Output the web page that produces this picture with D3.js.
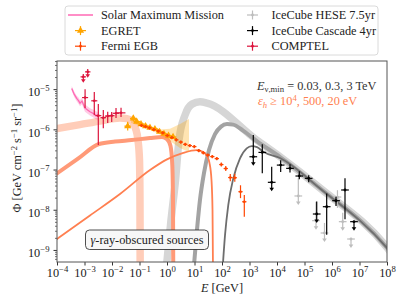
<!DOCTYPE html>
<html lang="en">
<head>
<meta charset="UTF-8">
<title>Gamma-ray obscured sources</title>
<style>
    body { margin: 0; background: #fff; }
    svg text { font-family: "Liberation Serif", "DejaVu Serif", serif; fill: #222; }
</style>
</head>
<body>
<svg id="chart"></svg>
<script src="https://cdnjs.cloudflare.com/ajax/libs/d3/7.9.0/d3.min.js"></script>
<script>
// axis decades
const xTickExp = [-4, -3, -2, -1, 0, 1, 2, 3, 4, 5, 6, 7, 8];
const yTickExp = [-9, -8, -7, -6, -5];

// Solar Maximum Mission (line + band, band half-width in dex)
const smmE = [3.43e-4, 4.26e-4, 5.20e-4, 6.05e-4, 6.86e-4, 8.11e-4, 1.04e-3, 1.58e-3, 2.41e-3, 3.18e-3];
const smmF = [1.04e-5, 7.38e-6, 5.87e-6, 5.18e-6, 4.49e-6, 5.04e-6, 3.37e-6, 2.73e-6, 2.35e-6, 2.05e-6];
const smmErr = [0.06, 0.07, 0.07, 0.08, 0.08, 0.08, 0.09, 0.09, 0.1, 0.1];

// COMPTEL (errors in dex)
const comptelE = [1.05e-3, 2.27e-3, 3.18e-3, 4.83e-3, 6.98e-3, 9.75e-3, 1.40e-2, 2.13e-2];
const comptelF = [6.17e-6, 5.13e-6, 2.19e-6, 1.95e-6, 2.14e-6, 2.19e-6, 2.51e-6, 2.57e-6];
const comptelUp = [0.21, 0.22, 0.29, 0.19, 0.11, 0.09, 0.13, 0.13];
const comptelDn = [0.26, 0.36, 0.73, 0.26, 0.17, 0.16, 0.12, 0.10];
const comptelBin = [0.11, 0.11, 0.11, 0.1, 0.1, 0.1, 0.12, 0.16];
const comptelLimE = [9.04e-4, 1.31e-3];
const comptelLimF = [2.02e-5, 2.69e-5];

// EGRET
const egretE = [0.0372, 0.0596, 0.0794, 0.1135, 0.166, 0.240, 0.363, 0.537, 0.776, 1.135, 1.66];
const egretF = [1.20e-6, 1.87e-6, 1.55e-6, 1.35e-6, 1.20e-6, 1.10e-6, 1.02e-6, 8.71e-7, 7.76e-7, 7.00e-7, 6.46e-7];
const egretErr = [0.11, 0.07, 0.05, 0.04, 0.04, 0.04, 0.04, 0.04, 0.04, 0.05, 0.05];
const egretBandE = [0.0491, 0.104, 0.241, 0.556, 1.285, 2.97, 6.31];
const egretBandHi = [2.07e-6, 1.56e-6, 1.24e-6, 9.86e-7, 1.04e-6, 1.35e-6, 1.80e-6];
const egretBandLo = [1.43e-6, 1.21e-6, 9.57e-7, 7.41e-7, 5.11e-7, 3.42e-7, 2.72e-7];

// Fermi EGB
const fermiE = [0.118, 0.165, 0.231, 0.331, 0.483, 0.703, 1.03, 1.50, 2.18, 3.18, 4.62, 6.75,
    9.84, 14.3, 20.9, 30.5, 44.4, 64.7, 94.4, 137, 200, 292, 471, 647];
const fermiF = [1.25e-6, 1.17e-6, 1.09e-6, 9.86e-7, 9.06e-7, 8.17e-7, 7.00e-7, 6.24e-7, 5.47e-7,
    4.82e-7, 4.23e-7, 3.94e-7, 3.72e-7, 2.96e-7, 2.61e-7, 2.29e-7, 2.10e-7, 1.87e-7, 1.33e-7,
    1.06e-7, 6.32e-8, 6.25e-8, 2.81e-8, 1.58e-8];
const fermiUp = [0.04, 0.04, 0.04, 0.04, 0.04, 0.04, 0.04, 0.04, 0.04, 0.04, 0.04, 0.04,
    0.04, 0.04, 0.04, 0.04, 0.04, 0.04, 0.05, 0.06, 0.09, 0.1, 0.16, 0.17];
const fermiDn = [0.04, 0.04, 0.04, 0.04, 0.04, 0.04, 0.04, 0.04, 0.04, 0.04, 0.04, 0.04,
    0.04, 0.04, 0.04, 0.04, 0.04, 0.04, 0.05, 0.06, 0.09, 0.1, 0.16, 0.37];

// IceCube Cascade 4yr (null lower error = upper limit)
const cascadeE = [1374, 2917, 6412, 1.36e4, 2.97e4, 6.47e4, 1.42e5, 2.78e5, 6.41e5, 1.40e6, 2.97e6, 6.31e6];
const cascadeF = [2.08e-7, 2.67e-7, 4.81e-8, 1.29e-7, 1.07e-7, 6.90e-8, 6.04e-8, 7.83e-9, 1.19e-8, 1.68e-8, 3.10e-8, 5.05e-9];
const cascadeUp = [0.54, 0.2, 0.39, 0.12, 0.1, 0.12, 0.08, 0.31, 0.33, 0.1, 0.29, 0];
const cascadeDn = [null, 0.52, null, 0.17, 0.1, 0.08, 0.1, null, 0.7, 0.13, 0.73, null];

// IceCube HESE 7.5yr
const heseE = [5.96e4, 2.62e5, 5.33e5, 1.58e6, 2.45e6, 4.91e6];
const heseF = [2.20e-8, 5.35e-9, 2.64e-9, 2.07e-8, 5.05e-9, 1.87e-9];
const heseUp = [0.44, 0.47, 0.25, 0.17, 0.22, 0];
const heseDn = [null, null, null, 0.27, null, null];

// neutrino model curves (E_nu,min = 0.03, 0.3, 3 TeV)
const nuE1 = [0.92, 1.40, 2.04, 2.73, 4.52, 8.11, 15.8, 28.5, 1828, 1.29e4, 3.66e5, 9.75e7, 1.5e8];
const nuF1 = [3e-10, 5.56e-9, 5.48e-8, 5.41e-7, 2.26e-6, 4.24e-6, 4.83e-6, 4.49e-6, 5.41e-7, 2.08e-7, 3.47e-8, 1.17e-9, 8e-10];
const nuE2 = [9.2, 12.3, 15.8, 22.1, 33.7, 55.6, 92.0, 152, 251, 581, 1828, 1.29e4, 3.66e5, 9.75e7, 1.5e8];
const nuF2 = [3e-10, 3.14e-9, 1.75e-8, 8.18e-8, 3.05e-7, 7.62e-7, 1.17e-6, 1.35e-6, 1.31e-6, 9.31e-7, 5.11e-7, 2.05e-7, 3.41e-8, 1.15e-9, 8e-10];
const nuE3 = [104, 129, 169, 258, 452, 791, 1202, 1875, 3177, 1.29e4, 3.66e5, 9.75e7, 1.5e8];
const nuF3 = [3e-10, 2.36e-9, 1.31e-8, 6.04e-8, 1.90e-7, 3.37e-7, 3.84e-7, 3.62e-7, 2.77e-7, 1.93e-7, 3.37e-8, 1.14e-9, 8e-10];

// gamma-ray model curves (eps_h >= 1e4, 500, 20 eV)
const gaE1 = [1e-4, 6.86e-4, 3.66e-3, 1.95e-2, 3.51e-2, 5.33e-2, 7.16e-2, 8.81e-2, 0.1, 0.104, 0.106];
const gaF1 = [1.05e-6, 1.31e-6, 1.60e-6, 1.91e-6, 1.85e-6, 1.60e-6, 1.07e-6, 5.41e-7, 1.72e-7, 1.75e-8, 3e-10];
const gaE2 = [1e-4, 5.81e-4, 3.37e-3, 1.29e-2, 5.20e-2, 0.241, 0.658, 1.0, 1.34, 1.56, 1.65, 1.69];
const gaF2 = [8.05e-8, 1.87e-7, 4.31e-7, 4.97e-7, 5.41e-7, 6.07e-7, 6.41e-7, 5.73e-7, 3.84e-7, 1.29e-7, 1.75e-8, 3e-10];
const gaE3 = [1e-4, 1.58e-3, 1.95e-2, 0.241, 1.0, 3.92, 12.0, 20.9, 28.5, 35.1, 41.5, 45.2, 47.1];
const gaF3 = [1.87e-9, 7.19e-9, 2.46e-8, 9.73e-8, 1.79e-7, 2.61e-7, 3.05e-7, 2.72e-7, 2.16e-7, 1.45e-7, 5.48e-8, 9.86e-9, 3e-10];

const W = 407, H = 305;
const pLeft = 57, pRight = 387, pTop = 61, pBottom = 262;
const fs = 12.3, fsSup = 8.7;

const svg = d3.select("#chart").attr("width", W).attr("height", H)
    .style("display", "block");

const x = d3.scaleLog().domain([1e-4, 1e8]).range([pLeft, pRight]);
const y = d3.scaleLog().domain([Math.pow(10, -9.3), Math.pow(10, -4.3)]).range([pBottom, pTop]);

svg.append("defs").append("clipPath").attr("id", "plot")
    .append("rect").attr("x", pLeft).attr("y", pTop)
    .attr("width", pRight - pLeft).attr("height", pBottom - pTop);

const plot = svg.append("g").attr("clip-path", "url(#plot)");

const line = d3.line().x(d => x(d[0])).y(d => y(d[1])).curve(d3.curveMonotoneX);
const zip = (a, b) => a.map((v, i) => [v, b[i]]);

function curve(E, F, color, width) {
    plot.append("path").attr("d", line(zip(E, F)))
        .attr("fill", "none").attr("stroke", color)
        .attr("stroke-width", width).attr("stroke-linejoin", "round").attr("stroke-linecap", "round");
}

// neutrino curves
curve(nuE1, nuF1, "#d6d6d6", 7.5);
curve(nuE2, nuF2, "#a3a3a3", 4);
curve(nuE3, nuF3, "#6e6e6e", 1.8);

// gamma curves
curve(gaE1, gaF1, "#ffcdb9", 7.5);
curve(gaE2, gaF2, "#ff9a78", 4);
curve(gaE3, gaF3, "#ff7f50", 1.8);

// EGRET band
const band = d3.area().x(d => x(d[0])).y0(d => y(d[1])).y1(d => y(d[2]));
plot.append("path")
    .attr("d", band(egretBandE.map((e, i) => [e, egretBandLo[i], egretBandHi[i]])))
    .attr("fill", "#ffa500").attr("fill-opacity", 0.3);

// SMM band and line
plot.append("path")
    .attr("d", band(smmE.map((e, i) => [e, smmF[i] * Math.pow(10, -smmErr[i]), smmF[i] * Math.pow(10, smmErr[i])])))
    .attr("fill", "#ff69b4").attr("fill-opacity", 0.35);
plot.append("path")
    .attr("d", d3.line().x(d => x(d[0])).y(d => y(d[1]))(zip(smmE, smmF)))
    .attr("fill", "none").attr("stroke", "#ff69b4").attr("stroke-width", 1.3);

// error bars; dn === null draws an upper limit arrow
function errorbars(E, F, up, dn, bin, color, opts) {
    const g = plot.append("g").attr("stroke", color).attr("fill", color);
    const lw = opts.lw || 1.2;
    E.forEach((e, i) => {
        const cx = x(e), cy = y(F[i]);
        const b = Array.isArray(bin) ? bin[i] : bin;
        g.append("line").attr("x1", x(e / Math.pow(10, b))).attr("x2", x(e * Math.pow(10, b)))
            .attr("y1", cy).attr("y2", cy).attr("stroke-width", lw);
        const yTop = y(F[i] * Math.pow(10, up[i]));
        if (dn[i] === null) {
            const tip = cy + opts.arrow;
            g.append("line").attr("x1", cx).attr("x2", cx).attr("y1", yTop).attr("y2", tip - 2)
                .attr("stroke-width", lw);
            g.append("path").attr("d", `M${cx - 2.3},${tip - 3.5}L${cx + 2.3},${tip - 3.5}L${cx},${tip}Z`)
                .attr("stroke", "none");
        } else {
            g.append("line").attr("x1", cx).attr("x2", cx)
                .attr("y1", yTop).attr("y2", y(F[i] / Math.pow(10, dn[i])))
                .attr("stroke-width", lw);
        }
        if (opts.marker === "tri") {
            g.append("path").attr("d", d3.symbol(d3.symbolTriangle, 22)()).attr("stroke", "none")
                .attr("transform", `translate(${cx},${cy})`);
        } else if (opts.marker === "dot") {
            g.append("circle").attr("cx", cx).attr("cy", cy).attr("r", opts.r || 1.4).attr("stroke", "none");
        }
    });
}

errorbars(egretE, egretF, egretErr, egretErr, 0.12, "#ffa500", { marker: "tri" });
errorbars(fermiE, fermiF, fermiUp, fermiDn, 0.078, "#ff4500", { marker: "dot", r: 1.3 });
errorbars(comptelE, comptelF, comptelUp, comptelDn, comptelBin, "#dc143c", { marker: "dot", r: 1.3 });
errorbars(comptelLimE, comptelLimF, [0.07, 0.07], [null, null], 0.1, "#dc143c", { marker: "dot", arrow: 6 });
errorbars(heseE, heseF, heseUp, heseDn, 0.14, "#bdbdbd", { marker: "dot", arrow: 9 });
errorbars(cascadeE, cascadeF, cascadeUp, cascadeDn, 0.14, "#000", { marker: "dot", arrow: 9 });

// axes
function supLabel(sel, base, exp) {
    sel.text(null);
    sel.append("tspan").text(base);
    sel.append("tspan").attr("dy", -5.5).attr("font-size", fsSup)
        .text(exp < 0 ? "\u2212" + (-exp) : String(exp));
}

const gx = svg.append("g").attr("transform", `translate(0,${pBottom})`)
    .call(d3.axisBottom(x).tickValues(xTickExp.map(e => Math.pow(10, e)))
        .tickSize(3.5).tickPadding(3).tickFormat(() => ""));
gx.select(".domain").remove();
gx.selectAll(".tick line").attr("stroke", "#333");
gx.selectAll(".tick text").attr("font-size", fs).attr("fill", "#222")
    .each(function (d) { supLabel(d3.select(this), "10", Math.round(Math.log10(d))); });

const minorY = [];
for (let n = -10; n <= -5; n++) {
    for (let m = 2; m <= 9; m++) {
        const v = m * Math.pow(10, n);
        if (v > y.domain()[0] && v < y.domain()[1]) minorY.push(v);
    }
}
const gyMinor = svg.append("g").attr("transform", `translate(${pLeft},0)`)
    .call(d3.axisLeft(y).tickValues(minorY).tickSize(2).tickFormat(() => ""));
gyMinor.select(".domain").remove();
gyMinor.selectAll(".tick line").attr("stroke", "#333").attr("stroke-width", 0.7);

const gy = svg.append("g").attr("transform", `translate(${pLeft},0)`)
    .call(d3.axisLeft(y).tickValues(yTickExp.map(e => Math.pow(10, e)))
        .tickSize(3.5).tickPadding(4).tickFormat(() => ""));
gy.select(".domain").remove();
gy.selectAll(".tick line").attr("stroke", "#333");
gy.selectAll(".tick text").attr("font-size", fs).attr("fill", "#222").attr("dy", "0.55em")
    .each(function (d) { supLabel(d3.select(this), "10", Math.round(Math.log10(d))); });

svg.append("rect").attr("x", pLeft).attr("y", pTop)
    .attr("width", pRight - pLeft).attr("height", pBottom - pTop)
    .attr("fill", "none").attr("stroke", "#555").attr("stroke-width", 1);

// axis labels
const xl = svg.append("text").attr("x", (pLeft + pRight) / 2).attr("y", 292)
    .attr("text-anchor", "middle").attr("font-size", fs);
xl.append("tspan").attr("font-style", "italic").text("E");
xl.append("tspan").text(" [GeV]");

const yl = svg.append("text").attr("transform", "translate(21,158) rotate(-90)")
    .attr("text-anchor", "middle").attr("font-size", fs);
yl.append("tspan").text("\u03a6 [GeV cm");
yl.append("tspan").attr("dy", -4.5).attr("font-size", fsSup).text("\u22122");
yl.append("tspan").attr("dy", 4.5).text(" s");
yl.append("tspan").attr("dy", -4.5).attr("font-size", fsSup).text("\u22121");
yl.append("tspan").attr("dy", 4.5).text(" sr");
yl.append("tspan").attr("dy", -4.5).attr("font-size", fsSup).text("\u22121");
yl.append("tspan").attr("dy", 4.5).text("]");

// annotations
const t1 = svg.append("text").attr("x", 257).attr("y", 89.5).attr("font-size", fs)
    .style("fill", "#333");
t1.append("tspan").attr("font-style", "italic").text("E");
t1.append("tspan").attr("dy", 2.5).attr("font-size", fsSup).text("\u03bd,min");
t1.append("tspan").attr("dy", -2.5).text(" = 0.03, 0.3, 3 TeV");

const t2 = svg.append("text").attr("x", 258).attr("y", 105).attr("font-size", fs)
    .style("fill", "#ff7f50");
t2.append("tspan").attr("font-style", "italic").text("\u03b5");
t2.append("tspan").attr("dy", 2.5).attr("font-size", fsSup).attr("font-style", "italic").text("h");
t2.append("tspan").attr("dy", -2.5).text(" \u2265 10");
t2.append("tspan").attr("dy", -4.5).attr("font-size", fsSup).text("4");
t2.append("tspan").attr("dy", 4.5).text(", 500, 20 eV");

svg.append("rect").attr("x", 85.5).attr("y", 230).attr("width", 123).attr("height", 19.5)
    .attr("rx", 4).attr("fill", "#f7f7f7").attr("stroke", "#222").attr("stroke-width", 0.8);
const bt = svg.append("text").attr("x", 147).attr("y", 244).attr("text-anchor", "middle")
    .attr("font-size", fs);
bt.append("tspan").attr("font-style", "italic").text("\u03b3");
bt.append("tspan").text("-ray-obscured sources");

// legend
const legend = svg.append("g");
legend.append("rect").attr("x", 65).attr("y", 6).attr("width", 313).attr("height", 49)
    .attr("rx", 3).attr("fill", "#fff").attr("fill-opacity", 0.8)
    .attr("stroke", "#d0d0d0").attr("stroke-width", 0.8);

const legendItems = [
    { label: "Solar Maximum Mission", color: "#ff69b4", kind: "line", col: 0, row: 0 },
    { label: "EGRET", color: "#ffa500", kind: "tri", col: 0, row: 1 },
    { label: "Fermi EGB", color: "#ff4500", kind: "dot", col: 0, row: 2 },
    { label: "IceCube HESE 7.5yr", color: "#bdbdbd", kind: "dot", col: 1, row: 0 },
    { label: "IceCube Cascade 4yr", color: "#000", kind: "dot", col: 1, row: 1 },
    { label: "COMPTEL", color: "#dc143c", kind: "dot", col: 1, row: 2 }
];
legendItems.forEach(it => {
    const cx = it.col === 0 ? 80.5 : 252.5;
    const cy = 15 + it.row * 15.6;
    const g = legend.append("g").attr("stroke", it.color).attr("fill", it.color);
    if (it.kind === "line") {
        g.append("line").attr("x1", 68).attr("x2", 93).attr("y1", cy).attr("y2", cy).attr("stroke-width", 1.5);
    } else {
        g.append("line").attr("x1", cx - 5.5).attr("x2", cx + 5.5).attr("y1", cy).attr("y2", cy).attr("stroke-width", 1.2);
        g.append("line").attr("x1", cx).attr("x2", cx).attr("y1", cy - 4.5).attr("y2", cy + 4.5).attr("stroke-width", 1.2);
        if (it.kind === "tri") {
            g.append("path").attr("d", d3.symbol(d3.symbolTriangle, 22)()).attr("stroke", "none")
                .attr("transform", `translate(${cx},${cy})`);
        } else {
            g.append("circle").attr("cx", cx).attr("cy", cy).attr("r", 1.4).attr("stroke", "none");
        }
    }
    legend.append("text").attr("x", it.col === 0 ? 101 : 271.5).attr("y", cy + 4)
        .attr("font-size", fs).text(it.label);
});
</script>
</body>
</html>
